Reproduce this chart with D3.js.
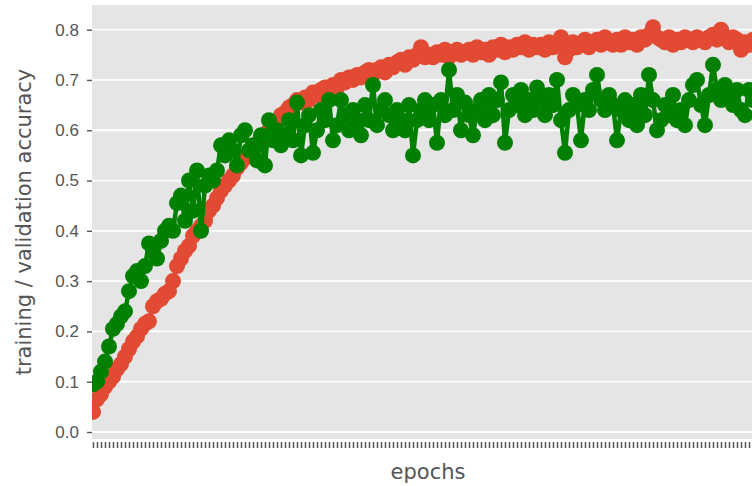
<!DOCTYPE html>
<html>
<head>
<meta charset="utf-8">
<script src="https://cdn.jsdelivr.net/npm/d3@7"></script>
<style>
  body { margin: 0; background: #fff; }
  svg { display: block; font-family: "DejaVu Sans", sans-serif; }
</style>
</head>
<body>
<svg id="chart" width="752" height="486"></svg>
<script>
// training accuracy per epoch (red)
var trainAcc = [
  0.04, 0.065, 0.075, 0.09, 0.10, 0.11, 0.125, 0.135, 0.15, 0.165,
  0.18, 0.19, 0.205, 0.215, 0.22, 0.25, 0.26, 0.265, 0.275, 0.28,
  0.30, 0.33, 0.345, 0.36, 0.37, 0.39, 0.40, 0.41, 0.42, 0.44,
  0.45, 0.465, 0.48, 0.49, 0.50, 0.51, 0.525, 0.535, 0.545, 0.55,
  0.565, 0.57, 0.585, 0.59, 0.60, 0.61, 0.615, 0.63, 0.635, 0.645,
  0.65, 0.66, 0.655, 0.665, 0.66, 0.675, 0.67, 0.68, 0.685, 0.675,
  0.69, 0.685, 0.70, 0.695, 0.705, 0.70, 0.71, 0.705, 0.715, 0.72,
  0.71, 0.72, 0.725, 0.715, 0.73, 0.725, 0.735, 0.74, 0.73, 0.745,
  0.74, 0.75, 0.765, 0.745, 0.75, 0.745, 0.755, 0.75, 0.76, 0.745,
  0.755, 0.76, 0.75, 0.755, 0.76, 0.75, 0.765, 0.755, 0.76, 0.75,
  0.765, 0.76, 0.77, 0.755, 0.765, 0.76, 0.77, 0.765, 0.775, 0.76,
  0.77, 0.765, 0.77, 0.76, 0.775, 0.765, 0.77, 0.785, 0.745, 0.76,
  0.775, 0.765, 0.77, 0.78, 0.765, 0.775, 0.78, 0.77, 0.785, 0.775,
  0.77, 0.78, 0.77, 0.785, 0.775, 0.78, 0.77, 0.785, 0.78, 0.79,
  0.805, 0.785, 0.78, 0.775, 0.785, 0.77, 0.78, 0.775, 0.785, 0.78,
  0.775, 0.785, 0.78, 0.775, 0.785, 0.79, 0.78, 0.80, 0.785, 0.775,
  0.785, 0.78, 0.76, 0.775, 0.77, 0.78
];
// validation accuracy per epoch (green)
var valAcc = [
  0.095, 0.10, 0.12, 0.14, 0.17, 0.205, 0.215, 0.23, 0.24, 0.28,
  0.31, 0.32, 0.30, 0.33, 0.375, 0.36, 0.345, 0.38, 0.40, 0.41,
  0.40, 0.455, 0.47, 0.42, 0.50, 0.44, 0.52, 0.40, 0.49, 0.51,
  0.50, 0.52, 0.57, 0.55, 0.58, 0.56, 0.53, 0.59, 0.60, 0.56,
  0.57, 0.54, 0.59, 0.53, 0.62, 0.58, 0.60, 0.57, 0.59, 0.62,
  0.58, 0.655, 0.55, 0.61, 0.63, 0.555, 0.60, 0.64, 0.62, 0.66,
  0.58, 0.61, 0.66, 0.63, 0.60, 0.64, 0.62, 0.59, 0.65, 0.62,
  0.69, 0.61, 0.64, 0.66, 0.63, 0.60, 0.64, 0.62, 0.60, 0.65,
  0.55, 0.62, 0.64, 0.66, 0.62, 0.65, 0.575, 0.66, 0.63, 0.72,
  0.64, 0.67, 0.60, 0.655, 0.63, 0.59, 0.64, 0.66, 0.62, 0.67,
  0.63, 0.66, 0.695, 0.575, 0.64, 0.67, 0.65, 0.68, 0.63, 0.66,
  0.64, 0.685, 0.66, 0.63, 0.67, 0.65, 0.70, 0.62, 0.555, 0.64,
  0.67, 0.65, 0.58, 0.66, 0.64, 0.68, 0.71, 0.66, 0.64, 0.67,
  0.65, 0.58, 0.64, 0.66, 0.62, 0.65, 0.61, 0.67, 0.63, 0.71,
  0.66, 0.60, 0.62, 0.65, 0.63, 0.67, 0.62, 0.64, 0.61, 0.66,
  0.69, 0.70, 0.65, 0.61, 0.67, 0.73, 0.68, 0.66, 0.69, 0.67,
  0.65, 0.68, 0.64, 0.63, 0.68, 0.66
];
var epochs = d3.range(trainAcc.length);
var yTicks = [0.0, 0.1, 0.2, 0.3, 0.4, 0.5, 0.6, 0.7, 0.8];

var svg = d3.select("#chart");
var plotLeft = 92, plotTop = 5, plotBottom = 439, plotRight = 760;

var x = d3.scaleLinear().domain([0, epochs.length - 1]).range([93, 753]);
var y = d3.scaleLinear().domain([-0.0139, 0.849]).range([plotBottom, plotTop]);

// Plot background
svg.append("rect")
    .attr("x", plotLeft).attr("y", plotTop)
    .attr("width", plotRight - plotLeft).attr("height", plotBottom - plotTop)
    .attr("fill", "#e5e5e5");

svg.append("clipPath").attr("id", "clip")
    .append("rect")
    .attr("x", plotLeft).attr("y", plotTop)
    .attr("width", plotRight - plotLeft).attr("height", plotBottom - plotTop);

// Horizontal grid
svg.append("g")
    .selectAll("line")
    .data(yTicks)
    .enter()
    .append("line")
    .attr("x1", plotLeft).attr("x2", plotRight)
    .attr("y1", function (d) { return y(d); })
    .attr("y2", function (d) { return y(d); })
    .attr("stroke", "#fff")
    .attr("stroke-width", 1.8);

// Y axis
var yAxis = svg.append("g")
    .attr("transform", "translate(" + plotLeft + ",0)")
    .call(d3.axisLeft(y).tickValues(yTicks).tickFormat(d3.format(".1f")).tickSize(5).tickPadding(8));
yAxis.select(".domain").remove();
yAxis.selectAll(".tick line").attr("stroke", "#555").attr("stroke-width", 1.4);
yAxis.selectAll(".tick text").attr("fill", "#555").style("font-size", "17px");

// X axis: one tick per epoch, no labels
var xAxis = svg.append("g")
    .attr("transform", "translate(0," + (plotBottom + 3) + ")")
    .call(d3.axisBottom(x).tickValues(epochs).tickFormat("").tickSize(6));
xAxis.select(".domain").remove();
xAxis.selectAll(".tick line").attr("stroke", "#555").attr("stroke-width", 1.5);

// Series
var plot = svg.append("g").attr("clip-path", "url(#clip)");
var line = d3.line()
    .x(function (d, i) { return x(i); })
    .y(function (d) { return y(d); });

[[trainAcc, "#e24a33"], [valAcc, "#008000"]].forEach(function (s) {
    var g = plot.append("g");
    g.append("path")
        .datum(s[0])
        .attr("d", line)
        .attr("fill", "none")
        .attr("stroke", s[1])
        .attr("stroke-width", 4.5);
    g.selectAll("circle")
        .data(s[0])
        .enter()
        .append("circle")
        .attr("cx", function (d, i) { return x(i); })
        .attr("cy", function (d) { return y(d); })
        .attr("r", 8)
        .attr("fill", s[1]);
});

// Axis labels
svg.append("text")
    .attr("x", 428).attr("y", 479)
    .attr("text-anchor", "middle")
    .attr("fill", "#555")
    .style("font-size", "21px")
    .text("epochs");

svg.append("text")
    .attr("transform", "translate(31,222) rotate(-90)")
    .attr("text-anchor", "middle")
    .attr("fill", "#555")
    .style("font-size", "21px")
    .text("training / validation accuracy");
</script>
</body>
</html>
